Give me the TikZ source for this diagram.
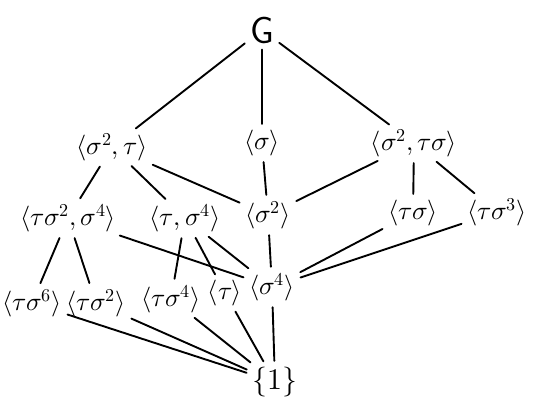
\documentclass[tikz,border=0pt]{standalone}
\usepackage{unicode-math}
\begin{document}
\begin{tikzpicture}[x=1bp,y=-1bp,
  lbl/.style={inner sep=2pt, font=\fontsize{26}{30}\selectfont},
  edge/.style={line width=1.9pt, line cap=round, shorten <=4pt, shorten >=4pt}]
\useasboundingbox (0,0) rectangle (540,416);
\node[lbl, font=\fontsize{38}{40}\selectfont\sffamily] (G) at (262,30) {G};
\node[lbl] (s2t)  at (112,147) {$\langle\sigma^2,\tau\rangle$};
\node[lbl] (s)    at (262,143) {$\langle\sigma\rangle$};
\node[lbl] (s2ts) at (414,143) {$\langle\sigma^2,\tau\sigma\rangle$};
\node[lbl] (ts2s4) at (68,218) {$\langle\tau\sigma^2,\sigma^4\rangle$};
\node[lbl] (ts4)  at (185,218) {$\langle\tau,\sigma^4\rangle$};
\node[lbl] (s2)   at (268,215) {$\langle\sigma^2\rangle$};
\node[lbl] (tsg)  at (413,213) {$\langle\tau\sigma\rangle$};
\node[lbl] (ts3)  at (497,212) {$\langle\tau\sigma^3\rangle$};
\node[lbl] (ts6)  at (32,303) {$\langle\tau\sigma^6\rangle$};
\node[lbl] (tsb2) at (96,303) {$\langle\tau\sigma^2\rangle$};
\node[lbl] (tsb4) at (171,299) {$\langle\tau\sigma^4\rangle$};
\node[lbl] (tau)  at (225,293) {$\langle\tau\rangle$};
\node[lbl] (s4)   at (272,287) {$\langle\sigma^4\rangle$};
\node[lbl, font=\fontsize{30}{32}\selectfont] (one)  at (275,382) {$\{1\}$};
\draw[edge] (G) -- (s2t);
\draw[edge] (G) -- (s);
\draw[edge] (G) -- (s2ts);
\draw[edge] (s2t) -- (ts2s4);
\draw[edge] (s2t) -- (ts4);
\draw[edge] (s2t) -- (s2);
\draw[edge] (s) -- (s2);
\draw[edge] (s2ts) -- (s2);
\draw[edge] (s2ts) -- (tsg);
\draw[edge] (s2ts) -- (ts3);
\draw[edge] (ts2s4) -- (ts6);
\draw[edge] (ts2s4) -- (tsb2);
\draw[edge] (ts2s4) -- (s4);
\draw[edge] (ts4) -- (tsb4);
\draw[edge] (ts4) -- (tau);
\draw[edge] (ts4) -- (s4);
\draw[edge] (s2) -- (s4);
\draw[edge] (tsg) -- (s4);
\draw[edge] (ts3) -- (s4);
\draw[edge] (ts6) -- (one);
\draw[edge] (tsb2) -- (one);
\draw[edge] (tsb4) -- (one);
\draw[edge] (tau) -- (one);
\draw[edge] (s4) -- (one);
\end{tikzpicture}
\end{document}
